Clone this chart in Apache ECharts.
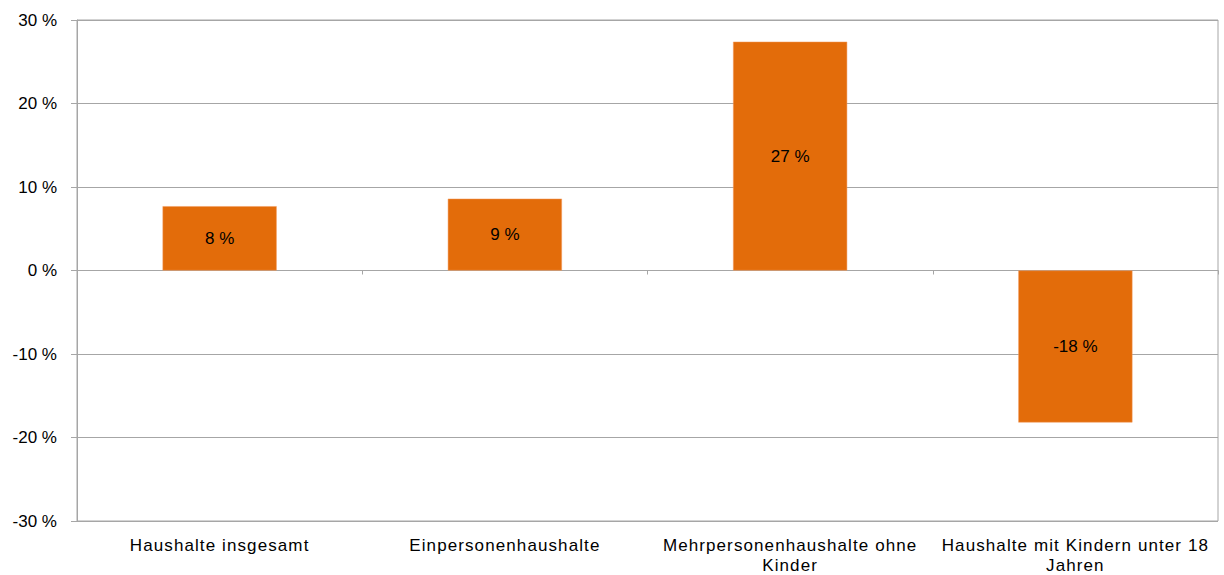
<!DOCTYPE html>
<html>
<head>
<meta charset="utf-8">
<script src="https://cdn.jsdelivr.net/npm/echarts@6/dist/echarts.min.js"></script>
<style>
html,body{margin:0;padding:0;background:#fff}
#c{width:1224px;height:575px}
#c svg text[style*="Liberation"]{letter-spacing:1.1px}
</style>
</head>
<body>
<div id="c"></div>
<script>
const categories = ["Haushalte insgesamt", "Einpersonenhaushalte", "Mehrpersonenhaushalte ohne\nKinder", "Haushalte mit Kindern unter 18\nJahren"];
const values = [7.7, 8.6, 27.4, -18.2];
const yTicks = { min: -30, max: 30, interval: 10 };

const chart = echarts.init(document.getElementById('c'), null, { renderer: 'svg' });
const catFont = 'Liberation Sans';
const numFont = 'Arial';
chart.setOption({
  animation: false,
  grid: { left: 77, right: 6, top: 20, bottom: 53, show: true, borderColor: '#A6A6A6', borderWidth: 1 },
  xAxis: [{
    type: 'category', data: categories,
    axisLine: { onZero: true, lineStyle: { color: '#A6A6A6', width: 1 } },
    axisTick: { show: true, length: 4, lineStyle: { color: '#A6A6A6' } },
    axisLabel: { show: false }
  }, {
    type: 'category', data: categories, position: 'bottom',
    axisLine: { show: false }, axisTick: { show: false },
    axisLabel: { color: '#000', fontFamily: catFont, fontSize: 17, lineHeight: 20, margin: 14, interval: 0 }
  }],
  yAxis: {
    type: 'value', min: yTicks.min, max: yTicks.max, interval: yTicks.interval,
    axisLine: { show: true, lineStyle: { color: '#A6A6A6', width: 1 } },
    axisTick: { show: true, length: 6, lineStyle: { color: '#A6A6A6' } },
    splitLine: { lineStyle: { color: '#A6A6A6', width: 1 } },
    axisLabel: { color: '#000', fontFamily: numFont, fontSize: 17, margin: 20, formatter: v => v + ' %' }
  },
  series: [{
    type: 'bar', data: values, barWidth: '40%', xAxisIndex: 0,
    itemStyle: { color: '#E36C0A', borderColor: '#F29A5E', borderWidth: 0.5 },
    label: { show: true, position: 'inside', color: '#000', fontFamily: numFont, fontSize: 17,
      formatter: p => Math.round(p.value) + ' %' }
  }]
});
</script>
</body>
</html>
